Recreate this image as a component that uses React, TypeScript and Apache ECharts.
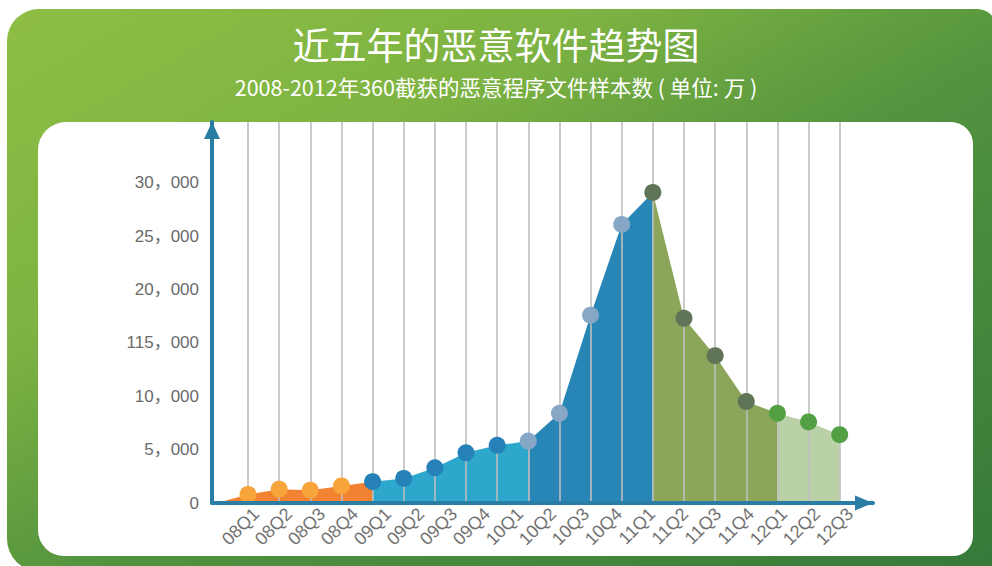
import React, { useEffect, useRef } from "react";
import * as echarts from "echarts";

const quarterLabels = [
  "08Q1", "08Q2", "08Q3", "08Q4",
  "09Q1", "09Q2", "09Q3", "09Q4",
  "10Q1", "10Q2", "10Q3", "10Q4",
  "11Q1", "11Q2", "11Q3", "11Q4",
  "12Q1", "12Q2", "12Q3",
];

// sample counts at the 20 plotted points (the curve starts at 0 on the y axis)
const sampleCounts = [
  800, 1300, 1200, 1600,
  2000, 2300, 3300, 4700, 5400,
  5800, 8400, 17600, 26100,
  29100, 17300, 13800, 9500,
  8400, 7600, 6400,
];

// point positions where the fill colour changes
const segmentBreaks = [0, 5, 10, 14, 18, 20];
const areaColors = ["#F08232", "#2DA7CB", "#2886B6", "#8BA65A", "#BAD1A8"];
const dotColors = ["#F7A53B", "#2581B7", "#87A7C7", "#607457", "#53A044"];

const yTickLabels = ["0", "5，000", "10，000", "115，000", "20，000", "25，000", "30，000"];

const titleText = "近五年的恶意软件趋势图";
const subtitleText = "2008-2012年360截获的恶意程序文件样本数 ( 单位: 万 )";

const AXIS_COLOR = "#2A7DA4";
const LABEL_FONT = "'Liberation Sans', Arial, 'Noto Sans CJK SC', sans-serif";
const CJK_FONT = "'Noto Sans CJK SC', sans-serif";

export default function App() {
  const ref = useRef<HTMLDivElement>(null);

  useEffect(() => {
    if (!ref.current) return;
    const chart = echarts.init(ref.current, undefined, { renderer: "svg" });

    const points: number[][] = [[0, 0], ...sampleCounts.map((v, i) => [i + 1, v])];

    const groupOf = (p: number) => {
      let g = 0;
      for (let k = 0; k < segmentBreaks.length; k++) if (segmentBreaks[k] <= p) g = k;
      return Math.min(g, dotColors.length - 1);
    };

    const areaSeries = areaColors.map((c, g) => ({
      type: "line",
      xAxisIndex: 0,
      yAxisIndex: 0,
      data: points.slice(segmentBreaks[g], segmentBreaks[g + 1] + 1),
      symbol: "none",
      showSymbol: false,
      lineStyle: { width: 0, opacity: 0 },
      areaStyle: { color: c, opacity: 1 },
      z: 2,
      silent: true,
      ...(g === 0
        ? {
            markLine: {
              silent: true,
              symbol: ["none", "none"],
              label: { show: false },
              lineStyle: { color: "#BEBEBE", width: 1.6, type: "solid" },
              data: points.slice(1).map((p) => ({ xAxis: p[0] })),
            },
          }
        : {}),
    }));

    const dotSeries = {
      type: "scatter",
      xAxisIndex: 0,
      yAxisIndex: 0,
      symbolSize: 17,
      z: 10,
      data: points.slice(1).map((p) => ({
        value: p,
        itemStyle: { color: dotColors[groupOf(p[0])], opacity: 1 },
      })),
    };

    chart.setOption({
      animation: false,
      graphic: [
        {
          type: "rect",
          z: -20,
          silent: true,
          shape: { x: 7, y: 9, width: 990, height: 562, r: [32, 20, 0, 32] },
          style: {
            fill: new echarts.graphic.LinearGradient(0, 0, 1, 1, [
              { offset: 0, color: "#8EBE44" },
              { offset: 0.3, color: "#7DB342" },
              { offset: 0.55, color: "#52923F" },
              { offset: 1, color: "#357A39" },
            ]),
          },
        },
        {
          type: "rect",
          z: -10,
          silent: true,
          shape: { x: 38, y: 122, width: 935, height: 434, r: [28, 22, 20, 26] },
          style: { fill: "#FFFFFF" },
        },
      ],
      title: [
        {
          text: titleText,
          left: "center",
          top: 25,
          padding: 0,
          textStyle: { color: "#FFFFFF", fontSize: 37, fontWeight: "normal", fontFamily: CJK_FONT },
        },
        {
          text: subtitleText,
          left: "center",
          top: 76,
          padding: 0,
          textStyle: { color: "#FFFFFF", fontSize: 21.5, fontWeight: "normal", fontFamily: CJK_FONT },
        },
      ],
      grid: [
        { left: 212, top: 122, width: 661, height: 381 },
        { left: 256, top: 400, width: 594, height: 104 },
      ],
      xAxis: [
        {
          type: "value",
          gridIndex: 0,
          min: -0.157,
          max: 21.07,
          z: 20,
          axisLine: {
            show: true,
            onZero: false,
            symbol: ["none", "triangle"],
            symbolSize: [15, 18],
            symbolOffset: [0, -9],
            lineStyle: { color: AXIS_COLOR, width: 4 },
          },
          axisTick: { show: false },
          axisLabel: { show: false },
          splitLine: { show: false },
        },
        {
          type: "category",
          gridIndex: 1,
          data: quarterLabels,
          boundaryGap: false,
          axisLine: { show: false },
          axisTick: { show: false },
          splitLine: { show: false },
          axisLabel: {
            interval: 0,
            rotate: 45,
            margin: 7,
            color: "#727272",
            fontSize: 18,
            fontFamily: LABEL_FONT,
          },
        },
      ],
      yAxis: [
        {
          type: "value",
          gridIndex: 0,
          min: 0,
          max: 35700,
          interval: 5000,
          z: 20,
          axisLine: {
            show: true,
            onZero: false,
            symbol: ["none", "triangle"],
            symbolSize: [16, 17],
            symbolOffset: [0, -8.5],
            lineStyle: { color: AXIS_COLOR, width: 4 },
          },
          axisTick: { show: false },
          splitLine: { show: false },
          axisLabel: {
            margin: 13,
            color: "#6A6A6A",
            fontSize: 17,
            fontFamily: LABEL_FONT,
            formatter: (v: number) => {
              const k = Math.round(v / 5000);
              return k < yTickLabels.length ? yTickLabels[k] : "";
            },
          },
        },
        { type: "value", gridIndex: 1, show: false },
      ],
      series: [...areaSeries, dotSeries],
    });

    return () => chart.dispose();
  }, []);

  return (
    <div
      ref={ref}
      style={{ position: "fixed", left: 0, top: 0, width: 992, height: 566, background: "#FFFFFF" }}
    />
  );
}
